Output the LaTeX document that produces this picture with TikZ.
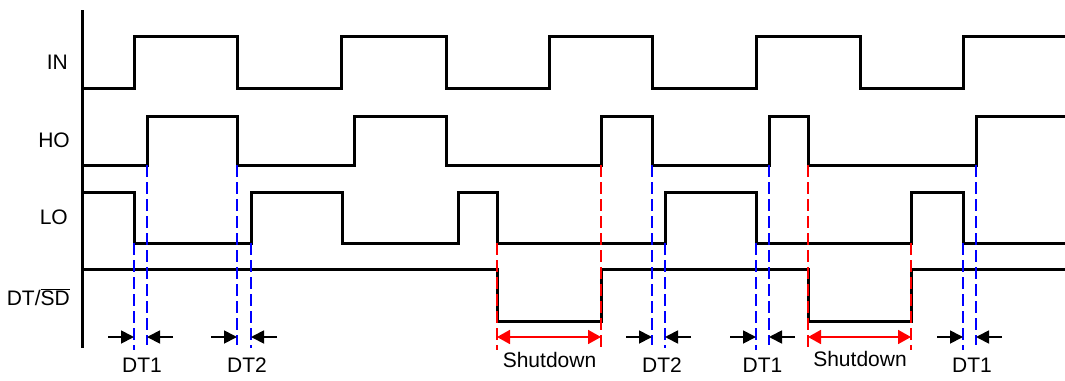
\documentclass[tikz,border=0pt]{standalone}
\usepackage{fontspec}
\setmainfont{Liberation Sans}
\usetikzlibrary{arrows.meta,calc}

\begin{document}
\begin{tikzpicture}[x=1pt,y=-1pt,
        sig/.style={draw=black,line width=3pt},
        bdash/.style={draw=blue,line width=2.8pt,dash pattern=on 12pt off 5pt},
        rdash/.style={draw=red,line width=2.8pt,dash pattern=on 12pt off 5pt},
        dtarrow/.style={draw=black,line width=1.8pt,-{Triangle[length=13pt,width=13pt]}},
        sdarrow/.style={draw=red,line width=1.8pt,{Triangle[length=13pt,width=14pt]}-{Triangle[length=13pt,width=14pt]}},
        lab/.style={font=\fontsize{21}{25}\selectfont,inner sep=0pt}]
        \useasboundingbox (0,0) rectangle (1065,380);
        % axis and waveforms
        \draw[sig] (82,10) -- (82,348);
        \draw[sig] (82,88) -| (134,36) -| (237,88) -| (341,36) -| (446,88) -| (549,36) -| (652,88) -| (756,36) -| (860,88) -| (963,36) -- (1065,36);
        \draw[sig] (82,165) -| (147,116) -| (237,165) -| (354,116) -| (446,165) -| (601,116) -| (652,165) -| (769,116) -| (808,165) -| (976,116) -- (1065,116);
        \draw[sig] (82,192) -| (134,243) -| (251,192) -| (342,243) -| (458,192) -| (497,243) -| (665,192) -| (756,243) -| (911,192) -| (963,243) -- (1065,243);
        \draw[sig] (82,269) -| (497,321) -| (601,269) -| (808,321) -| (911,269) -- (1065,269);
        % dead time markers
        \draw[bdash] (134,243) -- (134,350);
        \draw[bdash] (147,165) -- (147,345);
        \draw[bdash] (237,165) -- (237,345);
        \draw[bdash] (251,243) -- (251,348);
        \draw[bdash] (652,165) -- (652,345);
        \draw[bdash] (665,243) -- (665,348);
        \draw[bdash] (756,243) -- (756,350);
        \draw[bdash] (769,165) -- (769,345);
        \draw[bdash] (963,243) -- (963,350);
        \draw[bdash] (976,165) -- (976,345);
        % shutdown markers
        \draw[rdash] (497,243) -- (497,350);
        \draw[rdash] (601,165) -- (601,350);
        \draw[rdash] (808,165) -- (808,350);
        \draw[rdash] (911,243) -- (911,350);
        \coordinate (dt1a) at (134,337);
        \coordinate (dt1b) at (147,337);
        \coordinate (dt2a) at (237,337);
        \coordinate (dt2b) at (251,337);
        \coordinate (dt3a) at (652,337);
        \coordinate (dt3b) at (665,337);
        \coordinate (dt4a) at (756,337);
        \coordinate (dt4b) at (769,337);
        \coordinate (dt5a) at (963,337);
        \coordinate (dt5b) at (976,337);
        \coordinate (sd1a) at (497,337);
        \coordinate (sd1b) at (601,337);
        \coordinate (sd2a) at (808,337);
        \coordinate (sd2b) at (911,337);
        \draw[dtarrow] ($(dt1a)+(-26,0)$) -- (dt1a);
        \draw[dtarrow] ($(dt1b)+(26,0)$) -- (dt1b);
        \draw[dtarrow] ($(dt2a)+(-26,0)$) -- (dt2a);
        \draw[dtarrow] ($(dt2b)+(26,0)$) -- (dt2b);
        \draw[dtarrow] ($(dt3a)+(-26,0)$) -- (dt3a);
        \draw[dtarrow] ($(dt3b)+(26,0)$) -- (dt3b);
        \draw[dtarrow] ($(dt4a)+(-26,0)$) -- (dt4a);
        \draw[dtarrow] ($(dt4b)+(26,0)$) -- (dt4b);
        \draw[dtarrow] ($(dt5a)+(-26,0)$) -- (dt5a);
        \draw[dtarrow] ($(dt5b)+(26,0)$) -- (dt5b);
        \draw[sdarrow] (sd1a) -- (sd1b);
        \draw[sdarrow] (sd2a) -- (sd2b);
        % labels
        \node[lab,anchor=base east] (in) at (68,69) {IN};
        \node[lab,anchor=base east] (ho) at (70,147) {HO};
        \node[lab,anchor=base east] (lo) at (68,224) {LO};
        \node[lab,anchor=base east] (dtsd) at (70,305) {DT/$\overline{\hbox{SD}}$};
        \node[lab,anchor=base] (dt1) at (142,372) {DT1};
        \node[lab,anchor=base] (dt2) at (247,372) {DT2};
        \node[lab,anchor=base] (sd1) at (549.5,367) {Shutdown};
        \node[lab,anchor=base] (dt3) at (662,372) {DT2};
        \node[lab,anchor=base] (dt4) at (762.5,372) {DT1};
        \node[lab,anchor=base] (sd2) at (860,366) {Shutdown};
        \node[lab,anchor=base] (dt5) at (972,372) {DT1};
     \end{tikzpicture}
\end{document}
